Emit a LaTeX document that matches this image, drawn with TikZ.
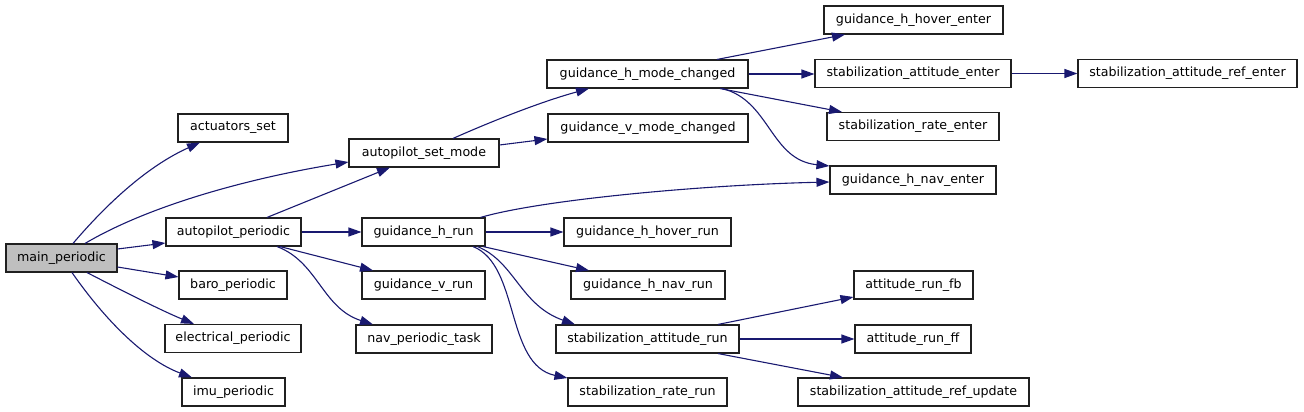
\documentclass[tikz,border=0pt]{standalone}
\usepackage{fontspec}
\setmainfont{DejaVu Sans}
\usetikzlibrary{arrows.meta}
\definecolor{edgeblue}{HTML}{191970}
\definecolor{rootfill}{HTML}{BFBFBF}
\definecolor{boxline}{HTML}{202020}
\tikzset{
  fn/.style={draw=boxline, line width=1.1pt, inner sep=0pt, minimum height=28pt, font=\fontsize{12.65}{14}\selectfont, anchor=center},
  call/.style={draw=edgeblue, line width=1.1pt, -{Triangle[length=13pt,width=9pt]}},
}
\begin{document}
\begin{tikzpicture}[x=1pt,y=-1pt]
\useasboundingbox (0,0) rectangle (1304,412);
% nodes
\node[fn, fill=rootfill, minimum width=111pt] (main) at (61.5,258) {main\_periodic};
\node[fn, minimum width=110pt] (act) at (233,128) {actuators\_set};
\node[fn, minimum width=135pt] (apper) at (233.5,232) {autopilot\_periodic};
\node[fn, minimum width=108pt] (baro) at (233,285) {baro\_periodic};
\node[fn, minimum width=136pt] (elec) at (233,338.5) {electrical\_periodic};
\node[fn, minimum width=103pt] (imu) at (233.5,392) {imu\_periodic};
\node[fn, minimum width=150pt] (asm) at (424,153) {autopilot\_set\_mode};
\node[fn, minimum width=201pt] (hmc) at (647.5,74) {guidance\_h\_mode\_changed};
\node[fn, minimum width=200pt] (vmc) at (648,128) {guidance\_v\_mode\_changed};
\node[fn, minimum width=123pt] (hrun) at (423.5,232) {guidance\_h\_run};
\node[fn, minimum width=123pt] (vrun) at (423.5,285) {guidance\_v\_run};
\node[fn, minimum width=136pt] (npt) at (424,339) {nav\_periodic\_task};
\node[fn, minimum width=167pt] (hhr) at (647.5,232) {guidance\_h\_hover\_run};
\node[fn, minimum width=154pt] (hnr) at (648,285) {guidance\_h\_nav\_run};
\node[fn, minimum width=183pt] (sar) at (647.5,339) {stabilization\_attitude\_run};
\node[fn, minimum width=159pt] (srr) at (647.5,392) {stabilization\_rate\_run};
\node[fn, minimum width=179pt] (hhe) at (913.5,20) {guidance\_h\_hover\_enter};
\node[fn, minimum width=196pt] (sae) at (913,73.5) {stabilization\_attitude\_enter};
\node[fn, minimum width=172pt] (sre) at (913,126.5) {stabilization\_rate\_enter};
\node[fn, minimum width=166pt] (hne) at (913,180) {guidance\_h\_nav\_enter};
\node[fn, minimum width=219pt] (sare) at (1187.5,73.5) {stabilization\_attitude\_ref\_enter};
\node[fn, minimum width=119pt] (arfb) at (913.5,285) {attitude\_run\_fb};
\node[fn, minimum width=116pt] (arff) at (913,339) {attitude\_run\_ff};
\node[fn, minimum width=231pt] (saru) at (913.5,392) {stabilization\_attitude\_ref\_update};
% edges from main_periodic
\draw[call] ([xshift=11.5pt]main.north) .. controls (110,200) and (150,165) .. ([xshift=-33pt]act.south);
\draw[call] ([xshift=23.5pt]main.north) .. controls (150,205) and (250,178) .. ([yshift=-9pt]asm.west);
\draw[call] ([yshift=9pt]main.east) -- ([yshift=-11pt]apper.west);
\draw[call] ([yshift=-9pt]main.east) -- ([yshift=8pt]baro.west);
\draw[call] ([xshift=25.5pt]main.south) .. controls (115,287) and (160,310) .. ([xshift=-39pt]elec.north);
\draw[call] ([xshift=10.5pt]main.south) .. controls (105,320) and (145,360) .. ([xshift=-41.5pt]imu.north);
% edges from autopilot_periodic
\draw[call] ([xshift=33.5pt]apper.north) -- ([xshift=-34pt]asm.south);
\draw[call] (apper.east) -- (hrun.west);
\draw[call] ([xshift=46.5pt]apper.south) -- ([xshift=-50.5pt]vrun.north);
\draw[call] ([xshift=43.5pt]apper.south) .. controls (318,262) and (322,308) .. ([xshift=-51pt]npt.north);
% edges from autopilot_set_mode
\draw[call] ([xshift=29pt]asm.north) .. controls (490,122) and (540,102) .. ([xshift=-58.5pt]hmc.south);
\draw[call] ([yshift=8pt]asm.east) -- ([yshift=-11pt]vmc.west);
% edges from guidance_h_mode_changed
\draw[call] ([xshift=69.5pt]hmc.north) -- ([xshift=-68.5pt]hhe.south);
\draw[call] (hmc.east) -- (hmc.east -| sae.west);
\draw[call] ([xshift=72.5pt]hmc.south) -- ([xshift=-71pt]sre.north);
\draw[call] ([xshift=74.5pt]hmc.south) .. controls (770,100) and (770,160) .. ([yshift=14pt]hne.west);
% stabilization_attitude_enter
\draw[call] (sae.east) -- (sare.west);
% edges from guidance_h_run
\draw[call] ([xshift=57pt]hrun.north) .. controls (540,200) and (700,185) .. ([yshift=-2pt]hne.west);
\draw[call] (hrun.east) -- (hhr.west);
\draw[call] ([xshift=59.5pt]hrun.south) -- ([xshift=-59pt]hnr.north);
\draw[call] ([xshift=54pt]hrun.south) .. controls (515,262) and (520,305) .. ([xshift=-72.5pt]sar.north);
\draw[call] ([xshift=49.5pt]hrun.south) .. controls (520,265) and (505,365) .. ([yshift=14pt]srr.west);
% edges from stabilization_attitude_run
\draw[call] ([xshift=70.5pt]sar.north) -- ([yshift=-12pt]arfb.west);
\draw[call] (sar.east) -- (arff.west);
\draw[call] ([xshift=70.5pt]sar.south) -- ([xshift=-70.5pt]saru.north);
\end{tikzpicture}
\end{document}
